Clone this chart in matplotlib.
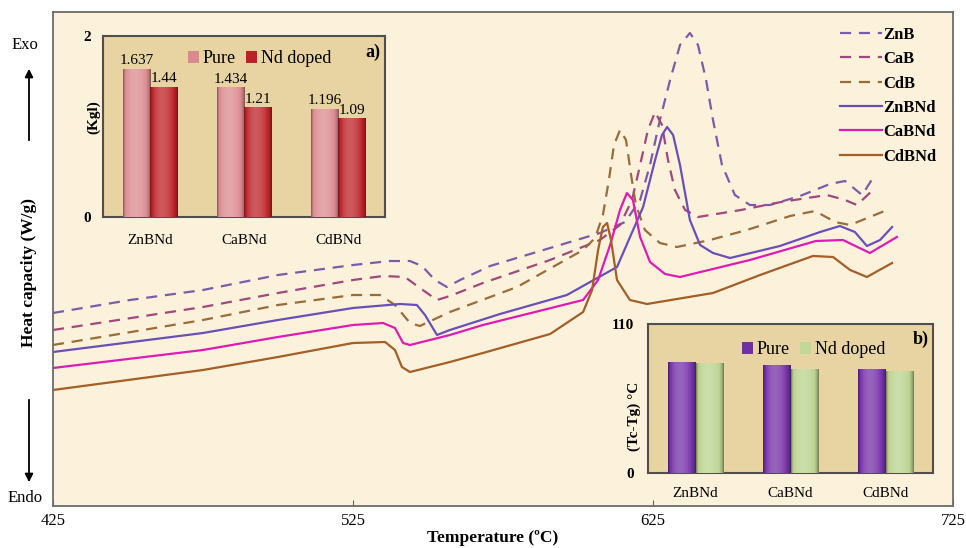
import numpy as np
import matplotlib
matplotlib.use('Agg')
import matplotlib.pyplot as plt
from matplotlib.colors import to_rgb
from matplotlib.patches import FancyArrowPatch

plt.rcParams['font.family'] = ['Liberation Serif', 'DejaVu Serif']

# DSC curves, temperature (C) vs heat flow (arbitrary units, exo up)
znb_t = [425, 450.7, 475, 500, 525, 537.3, 544, 548, 552.3, 556.3, 560.7, 570.7, 590.7, 607.3, 615.7, 620.7,
         624, 627.3, 630.7, 634, 637.3, 640, 642.7, 645, 648, 652.3, 657.3, 664, 674, 684, 689, 694.7, 698.3]
znb_y = [193, 206, 216, 231, 241, 245, 245, 240, 226, 219, 226, 240, 258, 273, 284, 306,
         341, 386, 426, 461, 473, 461, 426, 386, 341, 311, 301, 301, 310, 322, 325, 311, 328]

cab_t = [425, 475, 500, 525, 535, 542.3, 547.3, 553, 557.3, 568.3, 590.7, 607.3, 614, 618, 620.7, 623.3,
         625.7, 628, 630, 632.3, 635.7, 640, 654.3, 667.7, 683, 689, 693, 698.3]
cab_y = [176, 199, 213, 226, 230, 229, 218, 206, 210, 223, 246, 266, 281, 306, 341, 376,
         394, 381, 346, 316, 296, 289, 296, 304, 311, 306, 301, 316]

cdb_t = [425, 475, 500, 525, 534, 539, 544, 547.3, 557.3, 579.7, 601.7, 605.7, 608.3, 610.3, 612, 614,
         616, 617.7, 619.3, 622.3, 627.3, 633, 644, 656.3, 670.7, 679, 685.7, 690.7, 703]
cdb_y = [161, 186, 201, 211, 211, 201, 183, 180, 194, 219, 256, 268, 291, 326, 361, 376,
         366, 331, 301, 276, 263, 259, 266, 276, 290, 295, 284, 281, 296]

znbnd_t = [425, 475, 500, 525, 540.7, 546.3, 549, 553, 557.3, 574, 596.3, 613, 621.7, 625.7, 628, 629.7,
           631.7, 634, 637.3, 640.7, 645, 650.7, 667.3, 680.7, 687.3, 692.3, 696.3, 700.7, 704.7]
znbnd_y = [154, 173, 186, 198, 202, 201, 191, 171, 176, 192, 211, 239, 299, 346, 371, 379,
           371, 341, 286, 261, 253, 248, 260, 274, 280, 274, 260, 266, 279]

cabnd_t = [425, 475, 500, 525, 535, 539, 541.7, 544, 557.3, 568.3, 601.7, 606.7, 610.7, 614, 616.3, 618.3,
           620.7, 624, 629, 634, 657.3, 679.3, 688.3, 697.3, 706.3]
cabnd_y = [138, 156, 169, 181, 183, 178, 163, 161, 171, 181, 206, 226, 261, 296, 313, 306,
           269, 244, 232, 229, 246, 265, 266, 253, 269]

cdbnd_t = [425, 475, 500, 525, 535.7, 539, 541.3, 544, 557.3, 568.3, 590.7, 601.7, 604.7, 606.7, 608.3, 609.7,
           611, 613, 617.3, 623, 645, 660.7, 678.3, 685, 690.7, 696.3, 704.7]
cdbnd_y = [116, 136, 149, 163, 164, 156, 139, 134, 144, 153, 172, 194, 216, 256, 279, 283,
           266, 226, 206, 202, 213, 231, 250, 249, 236, 229, 243]

xticks = [425, 525, 625, 725]

# insets
samples = ['ZnBNd', 'CaBNd', 'CdBNd']
kgl_pure = [1.637, 1.434, 1.196]
kgl_nd = [1.44, 1.21, 1.09]
dt_pure = [82, 80, 77]
dt_nd = [81, 77, 75]


def shade(ax, bars, color):
    # fake cylinder look like the excel bars
    base = np.array(to_rgb(color))
    u = np.linspace(0, 1, 80)
    k = np.sin(np.pi * u) ** 0.6 * (1 - 0.35 * u)
    t = k * 1.0 - 0.45
    cols = np.empty((1, len(u), 3))
    for i, tt in enumerate(t):
        if tt < 0:
            cols[0, i] = base * (1 + tt)
        else:
            cols[0, i] = base + (1 - base) * tt * 0.6
    for b in bars:
        x0, w, h = b.get_x(), b.get_width(), b.get_height()
        im = ax.imshow(cols, extent=[x0, x0 + w, 0, h], aspect='auto', zorder=3, interpolation='bilinear')
        im.set_clip_path(b)


fig = plt.figure(figsize=(9.66, 5.48), dpi=100)
W, H = 966, 548

ax = fig.add_axes([53 / W, 1 - 506 / H, 900 / W, 494 / H])
ax.set_facecolor('#fcf2dc')
lw = 1.6
dash = (0, (5, 3.5))
ax.plot(znb_t, znb_y, color='#7e5ba8', lw=lw, ls=dash, label='ZnB')
ax.plot(cab_t, cab_y, color='#a3477d', lw=lw, ls=dash, label='CaB')
ax.plot(cdb_t, cdb_y, color='#9a6c38', lw=lw, ls=dash, label='CdB')
ax.plot(znbnd_t, znbnd_y, color='#6a4fb8', lw=lw, label='ZnBNd')
ax.plot(cabnd_t, cabnd_y, color='#e01ab5', lw=lw, label='CaBNd')
ax.plot(cdbnd_t, cdbnd_y, color='#a45e26', lw=lw, label='CdBNd')
ax.set_xlim(425, 725)
ax.set_ylim(0, 494)
ax.set_yticks([])
ax.set_xticks(xticks)
ax.tick_params(axis='x', direction='in', length=4, color='#666666', labelsize=12, pad=5)
for s in ax.spines.values():
    s.set_color('#6b6b6b')
    s.set_linewidth(1.3)
ax.set_xlabel('Temperature (\u00baC)', fontsize=12.5, fontweight='bold', va='center')
ax.xaxis.set_label_coords(0.488, -0.064)

leg = ax.legend(loc='upper left', bbox_to_anchor=(840 / W, 1 - 27 / H), bbox_transform=fig.transFigure,
                frameon=False, prop={'weight': 'bold', 'size': 12}, handlelength=2.5,
                handletextpad=0.1, labelspacing=0.5, borderpad=0, borderaxespad=0)

# Exo / Endo side labels
fig.text(25 / W, 1 - 45 / H, 'Exo', ha='center', va='center', fontsize=12)
fig.text(25 / W, 1 - 498 / H, 'Endo', ha='center', va='center', fontsize=12)
fig.text(29 / W, 1 - 272 / H, 'Heat capacity (W/g)', rotation=90, ha='center', va='center',
         fontsize=12.5, fontweight='bold')
fig.add_artist(FancyArrowPatch((29 / W, 1 - 143 / H), (29 / W, 1 - 66 / H), transform=fig.transFigure,
                               arrowstyle='-|>', mutation_scale=12, color='black', lw=1.3))
fig.add_artist(FancyArrowPatch((29 / W, 1 - 397 / H), (29 / W, 1 - 485 / H), transform=fig.transFigure,
                               arrowstyle='-|>', mutation_scale=12, color='black', lw=1.3))

# inset a) Kgl
xa = np.arange(len(samples))
bw = 0.29
axa = fig.add_axes([103 / W, 1 - 217 / H, 282 / W, 181 / H])
axa.set_facecolor('#e7d4a2')
ba1 = axa.bar(xa - bw / 2, kgl_pure, bw, color='#d98a8e', label='Pure', zorder=2)
ba2 = axa.bar(xa + bw / 2, kgl_nd, bw, color='#b8242a', label='Nd doped', zorder=2)
shade(axa, ba1, '#dc8c90')
shade(axa, ba2, '#bf262c')
for b, v in zip(ba1, kgl_pure):
    axa.annotate(f'{v:g}', (b.get_x() + b.get_width() / 2, v), xytext=(0, 1), textcoords='offset points',
                 ha='center', va='bottom', fontsize=11, zorder=5)
for b, v in zip(ba2, kgl_nd):
    axa.annotate(f'{v:g}', (b.get_x() + b.get_width() / 2, v), xytext=(0, 1), textcoords='offset points',
                 ha='center', va='bottom', fontsize=11, zorder=5)
axa.set_xlim(-0.5, 2.5)
axa.set_ylim(0, 2)
axa.set_yticks([0, 2])
axa.set_xticks(xa)
axa.set_xticklabels(samples)
axa.tick_params(length=0, labelsize=11)
axa.tick_params(axis='x', pad=12)
axa.tick_params(axis='y', pad=9)
for lab in axa.get_yticklabels():
    lab.set_fontweight('bold')
axa.set_ylabel('(Kgl)', fontsize=11, fontweight='bold')
axa.yaxis.set_label_coords(-0.01, 0.55)
for s in axa.spines.values():
    s.set_color('#4f4f4f')
    s.set_linewidth(1.5)
axa.legend(loc='upper center', bbox_to_anchor=(0.555, 1.0), frameon=False, fontsize=13, ncol=2,
           handlelength=0.6, handleheight=0.6, handletextpad=0.2, columnspacing=0.6, borderpad=0.3)
axa.text(0.985, 0.91, 'a)', transform=axa.transAxes, ha='right', va='center', fontsize=13, fontweight='bold')

# inset b) Tc-Tg
axb = fig.add_axes([648 / W, 1 - 473 / H, 285 / W, 149 / H])
axb.set_facecolor('#e7d4a2')
bb1 = axb.bar(xa - bw / 2, dt_pure, bw, color='#7030a0', label='Pure', zorder=2)
bb2 = axb.bar(xa + bw / 2, dt_nd, bw, color='#c4d79b', label='Nd doped', zorder=2)
shade(axb, bb1, '#7634a8')
shade(axb, bb2, '#bcd390')
axb.set_xlim(-0.5, 2.5)
axb.set_ylim(0, 110)
axb.set_yticks([0, 110])
axb.set_xticks(xa)
axb.set_xticklabels(samples)
axb.tick_params(length=0, labelsize=11)
axb.tick_params(axis='x', pad=10)
axb.tick_params(axis='y', pad=10)
for lab in axb.get_yticklabels():
    lab.set_fontweight('bold')
axb.set_ylabel('(Tc-Tg) \u00b0C', fontsize=11, fontweight='bold')
axb.yaxis.set_label_coords(-0.025, 0.38)
for s in axb.spines.values():
    s.set_color('#4f4f4f')
    s.set_linewidth(1.5)
axb.legend(loc='upper center', bbox_to_anchor=(0.58, 0.98), frameon=False, fontsize=13, ncol=2,
           handlelength=0.6, handleheight=0.6, handletextpad=0.2, columnspacing=0.6, borderpad=0.3)
axb.text(0.985, 0.9, 'b)', transform=axb.transAxes, ha='right', va='center', fontsize=13, fontweight='bold')

fig.savefig('out.png', dpi=100)
